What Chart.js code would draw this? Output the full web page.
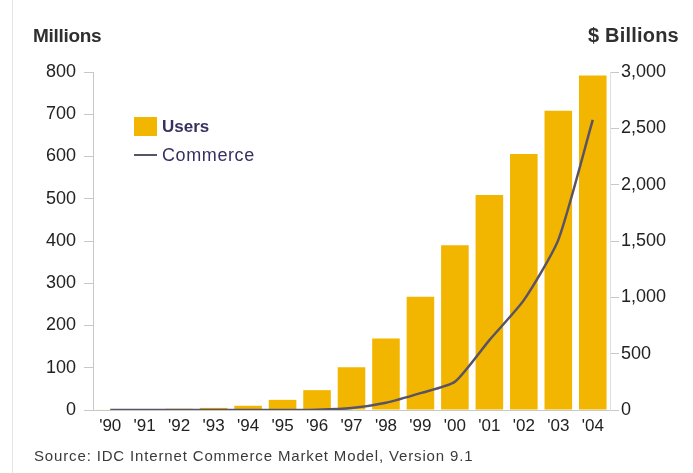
<!DOCTYPE html>
<html>
<head>
<meta charset="utf-8">
<script src="https://cdn.jsdelivr.net/npm/chart.js@4/dist/chart.umd.min.js"></script>
<style>
  html, body { margin:0; padding:0; background:#fff; }
  #wrap { position:relative; width:693px; height:473px; overflow:hidden; }
  #wrap:before { content:""; position:absolute; left:12px; top:0; bottom:0; width:1px; background:#e4e4e4; }
  canvas { position:absolute; left:0; top:0; }
  .t { position:absolute; font-family:'Liberation Sans',Arial,sans-serif; color:#2f2f2f; white-space:nowrap; line-height:1; }
  #lt { left:33px; top:26px; font-size:19px; font-weight:bold; letter-spacing:-0.3px; }
  #rt { left:588px; top:25px; font-size:20px; font-weight:bold; letter-spacing:0.2px; }
  #src { left:34px; top:448px; font-size:15px; letter-spacing:0.85px; color:#3a3a3a; }
  #lg1sw { position:absolute; left:134px; top:117px; width:23px; height:19px; background:#F2B600; }
  #lg2sw { position:absolute; left:134px; top:154px; width:23px; height:2px; background:#5A5364; }
  #lg1 { left:162px; top:118px; font-size:17px; font-weight:bold; color:#3a3060; }
  #lg2 { left:162px; top:146px; font-size:18px; letter-spacing:0.6px; color:#3a3060; }
</style>
</head>
<body>
<div id="wrap">
  <canvas id="c" width="693" height="473"></canvas>
  <div class="t" id="lt">Millions</div>
  <div class="t" id="rt">$ Billions</div>
  <div id="lg1sw"></div><div class="t" id="lg1">Users</div>
  <div id="lg2sw"></div><div class="t" id="lg2">Commerce</div>
  <div class="t" id="src">Source: IDC Internet Commerce Market Model, Version 9.1</div>
</div>
<script>
const years = ["'90","'91","'92","'93","'94","'95","'96","'97","'98","'99","'00","'01","'02","'03","'04"];
const users = [1, 2, 3, 5, 10, 24, 47, 101, 169, 268, 390, 509, 606, 708, 792];
const commerce = [0, 0, 0, 0, 0, 0, 3, 18, 65, 150, 250, 620, 975, 1510, 2575];
const leftTicks = [0, 100, 200, 300, 400, 500, 600, 700, 800];
const rightTicks = [0, 500, 1000, 1500, 2000, 2500, 3000];

const FONT = "'Liberation Sans',Arial,sans-serif";

new Chart(document.getElementById('c'), {
  data: {
    labels: years,
    datasets: [
      { type:'line', label:'Commerce', data: commerce, yAxisID:'y2',
        borderColor:'#5A5364', borderWidth:2.5, pointRadius:0, tension:0.2, order:0 },
      { type:'bar', label:'Users', data: users, yAxisID:'y',
        backgroundColor:'#F2B600', categoryPercentage:1, barPercentage:0.8, order:1 }
    ]
  },
  options: {
    responsive:false, animation:false,
    layout: { padding: { top:72, left:0, right:0, bottom:0 } },
    plugins: { legend:{display:false}, tooltip:{enabled:false} },
    scales: {
      x: {
        grid: { display:false, drawTicks:false },
        border: { color:'#c8c8c8' },
        ticks: { color:'#222', font:{ family:FONT, size:17 }, padding:6, maxRotation:0, autoSkip:false },
        afterFit: s => { s.height = 63; }
      },
      y: {
        position:'left', min:0, max:800,
        afterBuildTicks: s => { s.ticks = leftTicks.map(v => ({value:v})); },
        grid: { drawOnChartArea:false, tickLength:9, color:'#c8c8c8' },
        border: { color:'#c8c8c8' },
        ticks: { color:'#222', font:{ family:FONT, size:18 }, padding:8 },
        afterFit: s => { s.width = 93; }
      },
      y2: {
        position:'right', min:0, max:3000,
        afterBuildTicks: s => { s.ticks = rightTicks.map(v => ({value:v})); },
        grid: { drawOnChartArea:false, tickLength:9, color:'#c8c8c8' },
        border: { color:'#e0e0e0' },
        ticks: { color:'#222', font:{ family:FONT, size:18 }, padding:2,
                 callback: v => v.toLocaleString('en-US') },
        afterFit: s => { s.width = 83; }
      }
    }
  }
});
</script>
</body>
</html>
